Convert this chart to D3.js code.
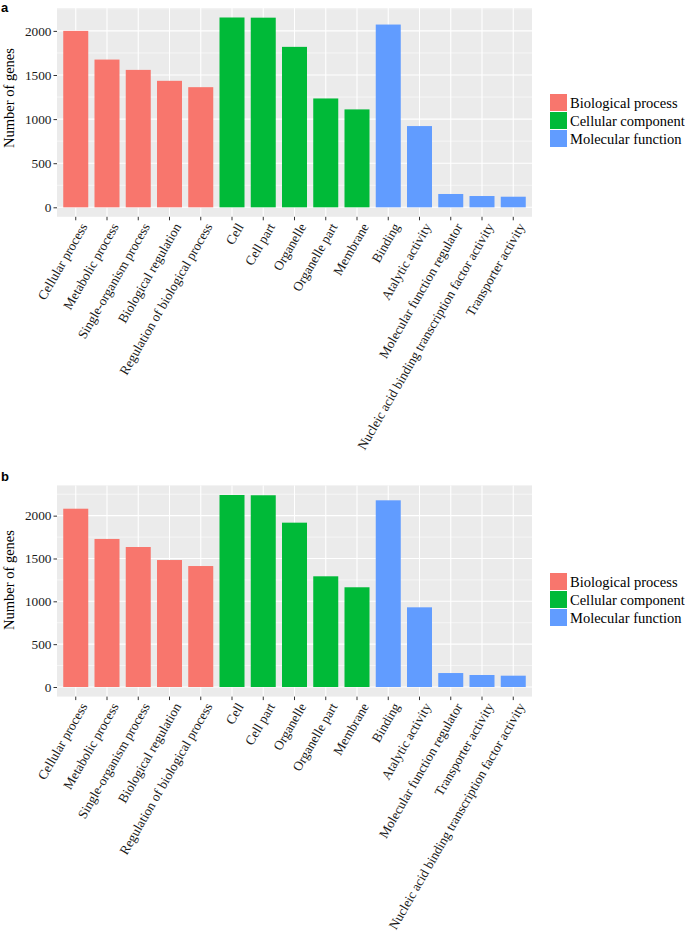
<!DOCTYPE html>
<html>
<head>
<meta charset="utf-8">
<script src="https://cdn.jsdelivr.net/npm/d3@7"></script>
<style>
  html, body { margin: 0; padding: 0; background: #fff; }
  svg { display: block; }
</style>
</head>
<body>
<svg id="chart" width="685" height="935"></svg>
<script>
// ---- Data ----
const groupNames = ["Biological process", "Cellular component", "Molecular function"];
const groupColors = ["#F8766D", "#00BA38", "#619CFF"];

const categoriesA = ["Cellular process", "Metabolic process", "Single-organism process", "Biological regulation",
  "Regulation of biological process", "Cell", "Cell part", "Organelle", "Organelle part", "Membrane",
  "Binding", "Atalytic activity", "Molecular function regulator",
  "Nucleic acid binding transcription factor activity", "Transporter activity"];
const valuesA = [2000, 1675, 1558, 1434, 1362, 2152, 2150, 1819, 1234, 1110, 2072, 921, 151, 128, 120];
const groupsA = [0, 0, 0, 0, 0, 1, 1, 1, 1, 1, 2, 2, 2, 2, 2];

const categoriesB = ["Cellular process", "Metabolic process", "Single-organism process", "Biological regulation",
  "Regulation of biological process", "Cell", "Cell part", "Organelle", "Organelle part", "Membrane",
  "Binding", "Atalytic activity", "Molecular function regulator", "Transporter activity",
  "Nucleic acid binding transcription factor activity"];
const valuesB = [2081, 1728, 1634, 1482, 1412, 2241, 2238, 1918, 1292, 1164, 2179, 930, 163, 140, 132];
const groupsB = [0, 0, 0, 0, 0, 1, 1, 1, 1, 1, 2, 2, 2, 2, 2];

const yTicks = [0, 500, 1000, 1500, 2000];
const yMinorTicks = [250, 750, 1250, 1750, 2250];
const yTitle = "Number of genes";

// ---- Drawing ----
const svg = d3.select("#chart");
const serif = "'Liberation Serif', 'Times New Roman', serif";

function drawPanel(cfg) {
  const { label, categories, values, groups, top, bottom, labelY, titleY, legendY } = cfg;
  const left = 57, right = 532;
  const g = svg.append("g");

  const maxV = d3.max(values);
  const y = d3.scaleLinear().domain([-0.05 * maxV, 1.05 * maxV]).range([bottom, top]);
  const x = d3.scaleBand().domain(categories).range([left, right]).paddingInner(0.2).paddingOuter(0.2);

  // panel background
  g.append("rect").attr("x", left).attr("y", top).attr("width", right - left).attr("height", bottom - top)
    .attr("fill", "#EBEBEB");

  // minor grid
  g.selectAll(".ymin").data(yMinorTicks.filter(v => y(v) >= top)).join("line")
    .attr("x1", left).attr("x2", right).attr("y1", d => y(d)).attr("y2", d => y(d))
    .attr("stroke", "#fff").attr("stroke-width", 0.55);
  // major grid
  g.selectAll(".ymaj").data(yTicks).join("line")
    .attr("x1", left).attr("x2", right).attr("y1", d => y(d)).attr("y2", d => y(d))
    .attr("stroke", "#fff").attr("stroke-width", 1.1);
  g.selectAll(".xmaj").data(categories).join("line")
    .attr("x1", d => x(d) + x.bandwidth() / 2).attr("x2", d => x(d) + x.bandwidth() / 2)
    .attr("y1", top).attr("y2", bottom)
    .attr("stroke", "#fff").attr("stroke-width", 1.1);

  // bars
  g.selectAll(".bar").data(categories).join("rect")
    .attr("x", d => x(d)).attr("width", x.bandwidth())
    .attr("y", (d, i) => y(values[i])).attr("height", (d, i) => y(0) - y(values[i]))
    .attr("fill", (d, i) => groupColors[groups[i]]);

  // y axis
  const ya = g.append("g").attr("transform", `translate(${left},0)`)
    .call(d3.axisLeft(y).tickValues(yTicks).tickSize(3.5).tickPadding(2).tickFormat(d3.format("d")));
  ya.select(".domain").remove();
  ya.selectAll(".tick line").attr("stroke", "#333");
  ya.selectAll(".tick text").attr("font-family", serif).attr("font-size", "13.3px").attr("fill", "#1a1a1a");

  // x axis
  const xa = g.append("g").attr("transform", `translate(0,${bottom})`)
    .call(d3.axisBottom(x).tickSize(3.5).tickPadding(0));
  xa.select(".domain").remove();
  xa.selectAll(".tick line").attr("stroke", "#333");
  xa.selectAll(".tick text")
    .attr("font-family", serif).attr("font-size", "13.3px").attr("fill", "#1a1a1a")
    .attr("text-anchor", "end")
    .attr("transform", "translate(4,5) rotate(-60)")
    .attr("x", 0).attr("y", 0).attr("dy", "0.71em");

  // y title
  g.append("text").attr("transform", `translate(13.5,${titleY}) rotate(-90)`)
    .attr("text-anchor", "middle").attr("font-family", serif).attr("font-size", "14.5px")
    .attr("fill", "#000").text(yTitle);

  // panel label
  g.append("text").attr("x", 1).attr("y", labelY).attr("font-family", "'Liberation Sans', Arial, sans-serif")
    .attr("font-weight", "bold").attr("font-size", "13px").attr("fill", "#000").text(label);

  // legend
  const lg = g.append("g").attr("transform", `translate(550,${legendY})`);
  const items = lg.selectAll("g").data(groupNames).join("g")
    .attr("transform", (d, i) => `translate(0,${i * 18})`);
  items.append("rect").attr("width", 17).attr("height", 17).attr("fill", (d, i) => groupColors[i]);
  items.append("text").attr("x", 20).attr("y", 13.5).attr("font-family", serif).attr("font-size", "14.5px")
    .attr("fill", "#000").text(d => d);
}

drawPanel({ label: "a", categories: categoriesA, values: valuesA, groups: groupsA,
  top: 8, bottom: 216.8, labelY: 12, titleY: 98, legendY: 94 });
drawPanel({ label: "b", categories: categoriesB, values: valuesB, groups: groupsB,
  top: 485.4, bottom: 696.6, labelY: 481, titleY: 580, legendY: 573 });
</script>
</body>
</html>
